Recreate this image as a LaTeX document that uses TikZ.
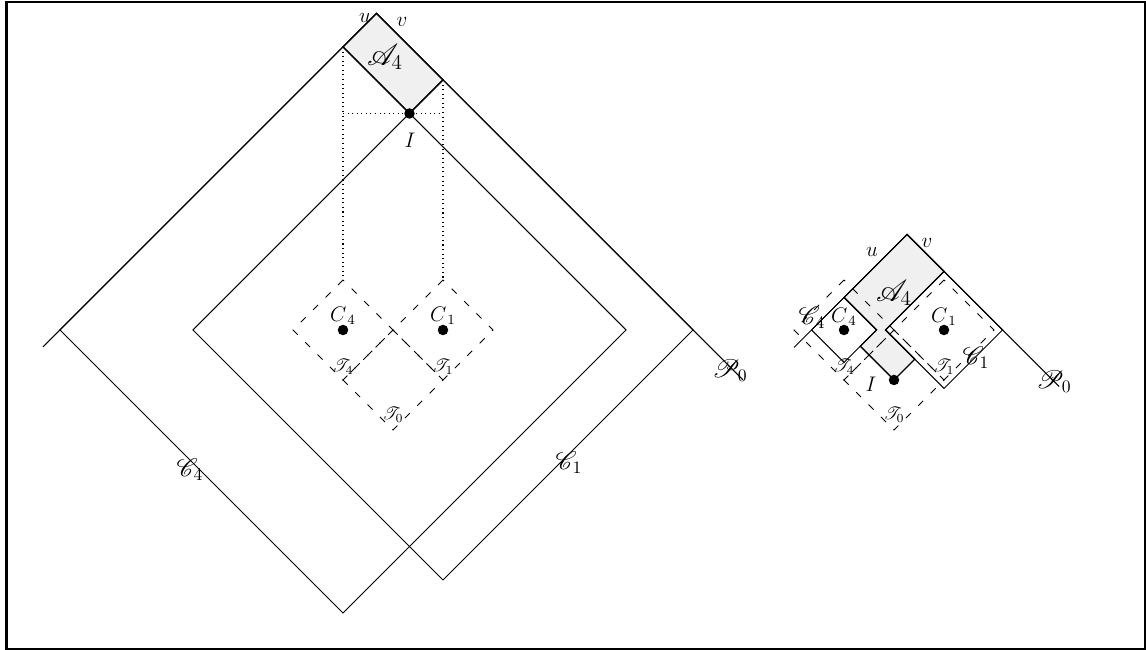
\documentclass[tikz,border=0pt]{standalone}
\usepackage{amsmath}
\usepackage{mathrsfs}
\usepackage{tikz}
\usetikzlibrary{calc}

\begin{document}
\begin{tikzpicture}[
    cone/.style={draw=black, line width=0.6pt},
    zone/.style={draw=black, fill=black!6, line width=0.8pt},
    tile/.style={draw=black, dash pattern=on 4pt off 6pt, line width=0.5pt},
    guide/.style={draw=black, dotted, line width=0.6pt},
    dotnode/.style={circle, fill=black, inner sep=0pt, minimum size=2.1mm},
    lbl/.style={inner sep=0pt, font=#1},
    lbl/.default={\large}
]

% === CADRE ===
\useasboundingbox (-7.86,-6.4) rectangle (15.06,6.6);
\draw[line width=1.4pt] (-7.73,-6.38) rectangle (15.04,6.56);

% === FIGURE GAUCHE ===
\coordinate (apexL) at (-0.33,6.33);
\coordinate (c4tL) at (-1,5.66);
\coordinate (c4lL) at (-6.66,0);
\coordinate (c4bL) at (-1,-5.66);
\coordinate (c4rL) at (4.66,0);
\coordinate (c1tL) at (1,5);
\coordinate (c1lL) at (-4,0);
\coordinate (c1bL) at (1,-5);
\coordinate (c1rL) at (6,0);
\coordinate (p0lL) at (-7,-0.34);
\coordinate (p0rL) at (7,-1);
\coordinate (t4topL) at (-1,1);
\coordinate (t1topL) at (1,1);
\coordinate (iL) at (0.33,4.33);

\draw[zone] (apexL) -- (c4tL) -- (iL) -- (c1tL) -- cycle;
\draw[cone] (c4tL) -- (c4lL) -- (c4bL) -- (c4rL) -- cycle;
\draw[cone] (c1tL) -- (c1lL) -- (c1bL) -- (c1rL) -- cycle;
\draw[cone] (p0lL) -- (apexL) -- (p0rL);

\foreach \cx/\cy in {-1/0, 1/0, 0/-1}
    \draw[tile, shift={(\cx,\cy)}] (0,1) -- (-1,0) -- (0,-1) -- (1,0) -- cycle;

\draw[guide] (c4tL) -- (t4topL);
\draw[guide] (c1tL) -- (t1topL);
\draw[guide] (iL -| c4tL) -- (iL -| c1tL);

\node[dotnode] (IL) at (iL) {};
\node[dotnode] (C4L) at (-1,0) {};
\node[dotnode] (C1L) at (1,0) {};

\node[lbl] (uL) at (-0.56,6.24) {$u$};
\node[lbl] (vL) at (0.18,6.16) {$v$};
\node[lbl=\LARGE] (A4L) at (-0.16,5.46) {$\mathscr{A}_4$};
\node[lbl] (ILab) at (0.34,3.8) {$I$};
\node[lbl] (C4Lab) at (-1,0.28) {$C_{\,4}$};
\node[lbl] (C1Lab) at (1,0.28) {$C_{\,1}$};
\node[lbl=\normalsize] (T4L) at (-1,-0.74) {$\mathscr{T}_4$};
\node[lbl=\normalsize] (T1L) at (1,-0.74) {$\mathscr{T}_1$};
\node[lbl=\normalsize] (T0L) at (0,-1.7) {$\mathscr{T}_0$};
\node[lbl=\Large] (P0L) at (6.74,-0.82) {$\mathscr{P}_0$};
\node[lbl=\Large] (K4L) at (-4.06,-2.8) {$\mathscr{C}_4$};
\node[lbl=\Large] (K1L) at (3.52,-2.66) {$\mathscr{C}_1$};

% === FIGURE DROITE ===
\begin{scope}[xshift=10.02cm]
\coordinate (apexR) at (0.26,1.91);
\coordinate (c4tR) at (-1,0.65);
\coordinate (c4lR) at (-1.65,0);
\coordinate (c4bR) at (-1,-0.65);
\coordinate (c4rR) at (-0.35,0);
\coordinate (c1tR) at (1,1.17);
\coordinate (c1lR) at (-0.17,0);
\coordinate (c1bR) at (1,-1.17);
\coordinate (c1rR) at (2.17,0);
\coordinate (p0lR) at (-2,-0.35);
\coordinate (p0rR) at (3.3,-1.13);
\coordinate (aR) at (-0.675,-0.325);
\coordinate (bR) at (0.415,-0.585);
\coordinate (iR) at (0,-1);

\draw[zone] (apexR) -- (c4tR) -- (c4rR) -- (aR) -- (iR) -- (bR) -- (c1lR) -- (c1tR) -- cycle;
\draw[cone] (c4tR) -- (c4lR) -- (c4bR) -- (c4rR) -- cycle;
\draw[cone] (c1tR) -- (c1lR) -- (c1bR) -- (c1rR) -- cycle;
\draw[cone] (p0lR) -- (apexR) -- (p0rR);

\foreach \cx/\cy in {-1/0, 1/0, 0/-1}
    \draw[tile, shift={(\cx,\cy)}] (0,1) -- (-1,0) -- (0,-1) -- (1,0) -- cycle;

\node[dotnode] (IR) at (iR) {};
\node[dotnode] (C4R) at (-1,0) {};
\node[dotnode] (C1R) at (1,0) {};

\node[lbl] (uR) at (-0.44,1.56) {$u$};
\node[lbl] (vR) at (0.66,1.74) {$v$};
\node[lbl=\LARGE] (A4R) at (0.0,0.74) {$\mathscr{A}_4$};
\node[lbl] (IRLab) at (-0.46,-1.08) {$I$};
\node[lbl] (C4RLab) at (-1,0.26) {$C_{\,4}$};
\node[lbl] (C1RLab) at (1,0.26) {$C_{\,1}$};
\node[lbl=\normalsize] (T4R) at (-1,-0.74) {$\mathscr{T}_4$};
\node[lbl=\normalsize] (T1R) at (1,-0.74) {$\mathscr{T}_1$};
\node[lbl=\normalsize] (T0R) at (0,-1.7) {$\mathscr{T}_0$};
\node[lbl=\Large] (P0R) at (3.2,-1.04) {$\mathscr{P}_0$};
\node[lbl=\Large] (K4R) at (-1.64,0.24) {$\mathscr{C}_4$};
\node[lbl=\Large] (K1R) at (1.64,-0.56) {$\mathscr{C}_1$};
\end{scope}

\end{tikzpicture}
\end{document}
